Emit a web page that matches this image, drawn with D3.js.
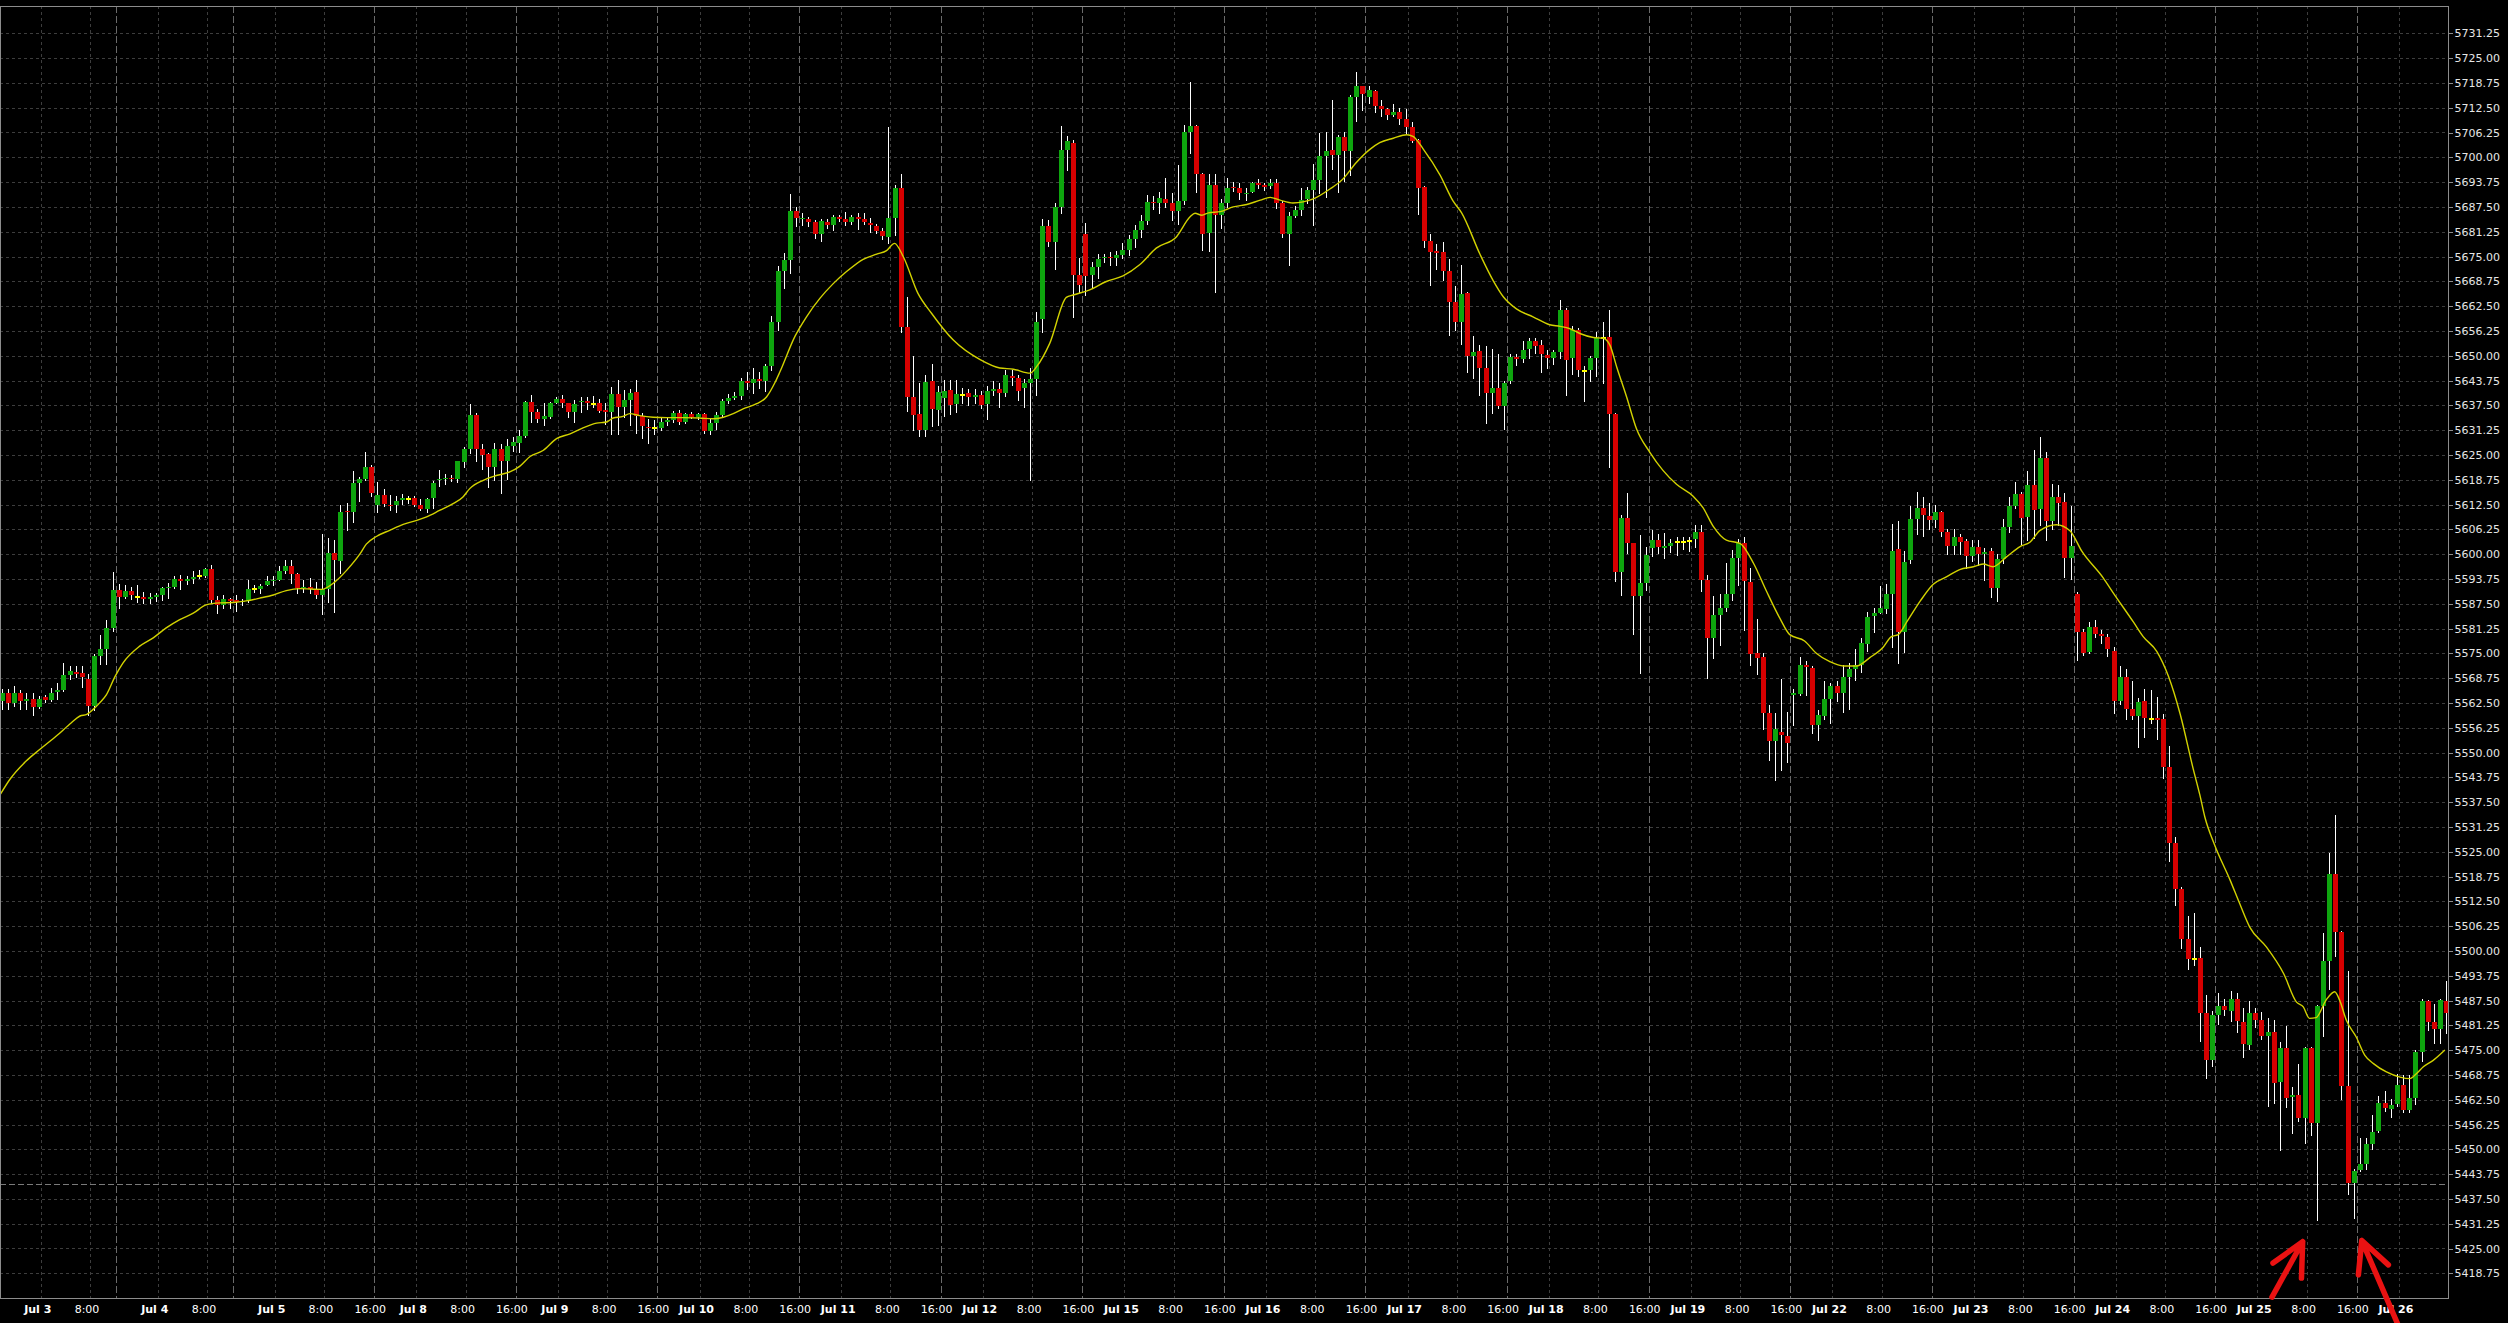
<!DOCTYPE html>
<html><head><meta charset="utf-8">
<script src="https://cdn.jsdelivr.net/npm/d3@7"></script>
<style>
html,body{margin:0;padding:0;background:#000;overflow:hidden}
svg{display:block}
</style></head><body>
<svg id="chart" width="2508" height="1323"></svg>
<script>
// ---------- DATA (hourly bars) ----------
const opens = [
5563,5565,5562.5,5565,5563,5563.5,5561.5,5564,5563.25,5565.25,
5565.75,5569.5,5570.25,5570,5568.5,5561.75,5574.25,5576,5581.5,5591,
5589.25,5590.75,5589.25,5589.25,5588.75,5589.25,5589.75,5591.5,5591.75,5593.75,
5593.25,5593.75,5594.5,5594.5,5596.25,5588.5,5587.25,5588.75,5588.5,5588,
5588.25,5591.25,5591.25,5592.25,5593.25,5593.5,5595.75,5597,5595,5591.5,
5591.75,5591.25,5589.75,5591.25,5600.25,5598.25,5610.75,5610.5,5618,5619,
5622,5612.25,5615,5612.5,5612.25,5613.75,5614,5614.25,5612.5,5611.25,
5614.25,5618.75,5619,5619.25,5619,5623.25,5626.5,5635,5626.5,5625.25,
5622,5626.5,5623.5,5627.25,5628,5629.75,5638.25,5635.75,5634,5634.5,
5638,5639,5638,5635.75,5638.25,5638.5,5637.75,5638,5636.25,5635.75,
5640.25,5637,5638.75,5640.75,5634.75,5632,5631.75,5631.75,5633.25,5633.75,
5635.5,5633.25,5635.25,5634.5,5635.25,5631,5633,5635,5638.5,5639.25,
5639.75,5643.75,5643,5644.25,5643.5,5647.5,5658.5,5671.25,5674,5686.5,
5684.5,5684.5,5683.75,5680.75,5683.75,5683,5685,5684.5,5683.75,5685,
5684.5,5683.5,5682.75,5681.5,5680,5684.75,5692.25,5657.25,5639.5,5635.25,
5631.25,5643.5,5636.25,5639.25,5641.25,5637.75,5640,5640.5,5639.5,5640,
5637.75,5641,5641.5,5640.5,5645,5644.5,5641.75,5643,5644.25,5659.25,
5682.75,5678.75,5687.5,5701.75,5703.5,5670.25,5680.75,5670.25,5672.25,5674.5,
5675,5674.5,5675.5,5676.75,5679.5,5681.75,5684,5688.75,5688.5,5689.5,
5688.5,5686.5,5689,5706.5,5708,5695.75,5681,5693,5685.5,5688.5,
5692.5,5692.25,5690.75,5691.25,5693.5,5693,5692.75,5693.5,5688.5,5680.75,
5685.25,5686.75,5689.5,5691.75,5694.25,5700.25,5701.75,5700.5,5705,5701.5,
5715.25,5718,5715.25,5716.75,5713,5712.25,5710.75,5711.5,5709.75,5707.75,
5704.25,5692.5,5679,5676.5,5676.25,5671.25,5663.5,5658.5,5665.75,5650,
5651.25,5647,5640.5,5641.75,5637.25,5643.75,5649.75,5649.25,5651.75,5653.75,
5652.75,5650.25,5649.5,5651,5661.5,5649.5,5656.5,5646.25,5646.5,5649.5,
5654.5,5654.75,5635.25,5595.5,5609,5602.75,5589.5,5592.75,5601.5,5603.5,
5601.5,5602,5603,5603,5603.25,5603.75,5605.5,5593.5,5578.75,5584.75,
5586.5,5590,5599,5602.75,5593,5575,5574,5560,5553,5555.25,
5554.25,5564.5,5564.75,5572,5571.25,5557,5559.25,5563.5,5566.75,5565,
5569,5571,5572,5577.25,5584.5,5585.25,5586.25,5590,5601.25,5580.25,
5598.5,5608.75,5611.5,5609.5,5608.5,5610.5,5605.5,5602,5604.25,5603.25,
5599.5,5601.75,5600,5600.75,5591.5,5598.75,5606.75,5612,5615.25,5609.25,
5617.5,5611.25,5624.25,5608.25,5614.5,5613.25,5599,5590,5580.25,5575.25,
5581.75,5579.75,5579,5575.5,5563,5569,5561,5559.25,5563,5558.5,
5558.75,5558.5,5546.25,5527.25,5515.5,5503,5498,5498.25,5484.25,5472.5,
5483.75,5486,5484.75,5488,5482,5476.25,5484.25,5482.5,5478.5,5479.5,
5467,5475.5,5463.25,5463.75,5458,5475.5,5456.75,5486,5497.5,5519.5,
5504.75,5466,5441.5,5444.75,5446.25,5451.25,5454.5,5461.75,5460.25,5461.5,
5466.25,5460,5463,5474.5,5487.5,5482,5480.25,5487.5];

const highs = [
5566,5566,5566.75,5565.75,5565,5565,5564.25,5564.5,5566.25,5567.5,
5572.5,5571.75,5571.75,5571.75,5569.75,5574.75,5579.5,5583.5,5595.5,5592.5,
5592.25,5591.75,5592.25,5590.5,5590.25,5590.25,5591.75,5592.75,5594.5,5594.75,
5594.5,5595.75,5596,5596.5,5597.25,5589.5,5589.75,5589,5589.75,5588.75,
5593.5,5592.25,5592.5,5594.5,5594.5,5597,5598.5,5598.5,5595.25,5593.5,
5594,5593,5605,5604,5603.5,5612.5,5613,5621,5619.5,5625.75,
5622.5,5618.25,5616.5,5615,5614.75,5615.25,5614.75,5614.75,5614,5614.25,
5618.5,5621.25,5620.25,5620,5623.5,5627,5637.75,5635.5,5627.75,5625.5,
5628,5627.75,5629,5629.5,5631.25,5638.5,5640,5636.5,5638,5638.25,
5639.5,5640,5638,5638.75,5639.5,5639.5,5639.75,5639,5638,5642,
5644,5641.25,5641.5,5644,5635.5,5634,5633.75,5634.5,5634.5,5636,
5636.25,5635.5,5635.75,5635.5,5635.5,5634,5635.75,5639,5640.25,5640.75,
5644.5,5646,5647,5646,5648,5660,5672.5,5676,5690.75,5687.5,
5686,5685,5684.25,5684.5,5684.5,5685.5,5685.5,5686.25,5685.5,5686,
5686,5684.75,5683.25,5682.25,5707.75,5693,5695.75,5664.75,5650,5643,
5645.25,5648,5642.25,5644,5644,5644,5641.75,5641.5,5641.5,5641,
5642.25,5643.5,5643,5646.5,5646.5,5645.25,5644.25,5647,5661,5684.5,
5684.25,5688.5,5708,5705.25,5704.25,5674.5,5683.5,5673.5,5675.75,5675.75,
5676.25,5676.5,5678.5,5680.5,5683,5685.5,5690.5,5690.25,5691.25,5694.75,
5691,5698,5708.25,5719,5708.25,5696,5695.75,5695.75,5689.5,5694.75,
5693.75,5693.5,5692.25,5693.75,5694.5,5693.5,5694.5,5694.5,5689,5686.25,
5687.75,5692.25,5692.5,5698.25,5706,5706.5,5714.5,5705.5,5706.5,5715.75,
5721.5,5718,5718,5717,5714.5,5712.5,5713.5,5712.5,5712.25,5709,
5704.5,5692.75,5680.75,5678.25,5678.75,5674.25,5667.5,5672.75,5666,5655,
5652.75,5652.5,5651.75,5650.5,5643.5,5650.5,5650.5,5653.75,5654.5,5654.5,
5654,5651.5,5651.5,5664,5662,5657.5,5657,5647.5,5650,5656,
5658.5,5661.5,5635.5,5609.75,5615.5,5602.75,5604.75,5601.75,5606,5605,
5605.25,5603.75,5604.25,5604.25,5604.25,5607.25,5607.25,5594.75,5589.5,5590,
5597.75,5601,5603.75,5604.25,5596.5,5583.75,5575,5562,5560,5568.5,
5560.25,5566,5574,5573,5571.75,5560.75,5568,5567.5,5568,5572,
5572.5,5576,5578.75,5585.5,5586.5,5592,5592.5,5607.5,5608.25,5600.75,
5612,5615.75,5614.5,5613,5612.5,5610.75,5606.25,5606.25,5605,5603.75,
5603.5,5603.5,5601.5,5601.5,5600,5608.75,5614.5,5618.25,5615.75,5621,
5626.25,5629.5,5625.75,5617.75,5617.5,5615.5,5612,5590.5,5581,5583,
5583.5,5580.75,5579.75,5576.5,5571.75,5571,5568,5563.75,5566,5565.75,
5564,5559.75,5551.75,5528.75,5516,5508.75,5509.5,5501,5489,5484.75,
5489.5,5488,5490,5489.5,5485.5,5487.25,5485.5,5484.5,5483,5482.5,
5477,5481,5465.75,5471.5,5475.75,5475.75,5486.25,5504.5,5524.75,5534.25,
5505,5495,5445,5452.75,5452.75,5458.75,5463.5,5464.75,5462.75,5469,
5468.75,5468.75,5475,5488,5487.75,5486.5,5488,5492.5];

const lows = [
5561,5561,5561.75,5561,5561,5559.5,5561.25,5562.75,5563,5563.5,
5565.5,5568.5,5569,5566.5,5559.5,5560.75,5572.25,5572.25,5580.5,5586.5,
5589,5588.75,5588,5587.75,5587.75,5588.25,5588.5,5589,5591.5,5591.25,
5592.5,5592.75,5594,5594.25,5587.75,5585.25,5586.5,5586.5,5585.75,5587.25,
5588,5590.5,5590.25,5592.25,5592.25,5593.5,5595.25,5592.75,5590.25,5590.5,
5590.25,5589,5585,5588,5585.5,5595.25,5606,5608,5613.5,5618.75,
5614.75,5610.5,5612,5611,5610.5,5612.75,5613,5612,5611,5610.5,
5611.5,5617.25,5617.75,5618.5,5618.25,5622,5625.5,5623.5,5621.5,5617,
5618.75,5615.5,5619,5626,5625.75,5629.5,5633.25,5633.25,5632.5,5634.25,
5638,5637,5634.5,5633.25,5635.75,5636.5,5637,5635.75,5632.75,5630.25,
5630.25,5634.5,5632.5,5630.5,5629.25,5628,5630.25,5631.25,5632.5,5633.25,
5632.75,5633,5634.25,5634,5630.5,5630.25,5631.5,5634.75,5638,5639,
5639,5641.5,5640.5,5641.75,5641,5646.5,5656.5,5667,5670.75,5682.75,
5683,5682.75,5679.75,5679,5682.25,5681.75,5684,5683,5683.25,5682,
5683.25,5681.25,5681,5679.5,5678.5,5680.5,5656,5636,5631.25,5629.75,
5629.75,5632.25,5632.5,5634.75,5635.25,5635.75,5638,5637.5,5638,5636.75,
5634,5640,5637,5639.75,5642.5,5638.75,5637,5618.75,5640,5656,
5677.75,5671.75,5686,5696.75,5659.75,5666,5665.25,5667,5669.5,5673.5,
5672.75,5672.75,5674.5,5675.5,5677.5,5680,5683.25,5687,5686,5687.5,
5684.25,5683.25,5688.25,5701,5691.25,5676.75,5676.5,5666,5682.25,5687.5,
5691.5,5689.5,5689.25,5691.25,5692.25,5691.75,5692.25,5687.25,5680,5672.75,
5685,5685.5,5688.5,5683,5691,5690,5697,5691.25,5694,5695.5,
5709.25,5712,5713.75,5711.5,5710.5,5709.75,5710.5,5708.5,5706,5703.75,
5685.75,5677.5,5667.75,5671.75,5669,5655.25,5656.5,5653,5646,5644.5,
5640,5633,5635.5,5636.75,5631.5,5643,5647.75,5648.5,5649.5,5650.75,
5646,5647,5648,5649.5,5640,5645.5,5645,5638.5,5643.75,5645,
5643,5622,5593.25,5589.75,5600.25,5579.75,5570,5591,5599.5,5600.25,
5599,5600.5,5599.75,5601.25,5600.75,5601.75,5590.75,5568.75,5573.75,5577,
5585.75,5588.5,5592.25,5580.75,5572,5569.75,5556,5548,5543,5545.5,
5547.5,5557,5564.5,5564.5,5555,5553.25,5558.5,5557.5,5563,5560.25,
5561,5568.25,5570.25,5575.5,5580.25,5585.25,5585.25,5576.5,5572.5,5575.25,
5597.75,5605,5604.5,5606.25,5606.75,5604.5,5600,5600,5600,5596.5,
5598.25,5597.25,5593.5,5589.25,5588.25,5597.75,5605.5,5611.5,5602.5,5603.5,
5604,5607.25,5603.5,5606.25,5607.25,5594.25,5593.75,5573.25,5574.5,5575,
5579,5577.5,5574.25,5560,5562.25,5558.5,5558.5,5551.5,5554,5557.5,
5553.5,5543.5,5522.75,5511.5,5500.75,5495.5,5496.5,5477.25,5468,5471,
5481.5,5483.75,5482.25,5479.5,5473.25,5475.25,5480.75,5477.75,5461,5461.75,
5449.75,5460.75,5454,5457.25,5451.5,5453.5,5432.25,5478.5,5490.5,5498.75,
5462.75,5438.75,5432.75,5444.5,5445,5450,5454.25,5459.75,5458.25,5461,
5459.5,5459.5,5461.5,5472.25,5480,5476.75,5476.75,5479.25];

const closes = [
5565,5562.5,5565,5563,5563.5,5561.5,5563.5,5563.25,5565,5565.75,
5569.5,5570.5,5569.75,5569,5561.75,5574.25,5576,5581.5,5591,5589.25,
5590.75,5589.75,5589.25,5588.75,5589.25,5589.75,5591.5,5591.75,5593.75,5593.25,
5593.75,5594.25,5594.5,5596.25,5588.5,5587.25,5588.75,5588.25,5588,5588.25,
5591.25,5591.25,5592,5593.25,5593.5,5595.75,5597,5595,5591.5,5591.75,
5591.25,5589.75,5591.25,5600.25,5598.5,5610.5,5610.5,5618,5619,5622,
5615.5,5615,5612.75,5612,5613.5,5614.25,5614,5612.5,5611.25,5614,
5618,5619,5619.25,5619,5623.5,5626.5,5635,5626.5,5625,5622,
5626.5,5623.5,5627.25,5628.25,5629.75,5638.25,5635.75,5634,5634.75,5638,
5639,5638,5635.75,5637.75,5638.5,5638,5637.75,5636,5635.75,5640.25,
5637,5638.75,5640.5,5634.75,5632.25,5631.75,5631.75,5633.25,5633.75,5635.5,
5633.25,5635.25,5634.5,5635.25,5631,5633,5635,5638.5,5639.25,5639.75,
5643.75,5643,5644.25,5643.5,5647.5,5658.5,5671.25,5674,5686.5,5684.75,
5684.75,5683.75,5680.75,5684,5683,5685,5684.5,5683.75,5685,5684.5,
5683.75,5683,5681.5,5680.25,5684.75,5692.25,5657.25,5639.5,5635,5631.25,
5643.25,5636.5,5640.75,5641,5637.5,5640.25,5640,5639.5,5640,5637.5,
5641,5641.5,5640.5,5645.25,5644.5,5641,5643,5644.25,5658.5,5682.75,
5678.75,5687.5,5701.75,5704,5670.25,5667.75,5670,5672.25,5674.25,5675,
5674.5,5675.5,5676.75,5679.5,5681.75,5684,5688.75,5688.5,5689.75,5688.5,
5686.5,5689,5706.5,5708,5695.75,5680.75,5693,5685.5,5688.5,5692.25,
5692.25,5691,5691,5693.5,5693,5692.5,5693.5,5688.5,5680.75,5685.25,
5686.75,5689.25,5691.75,5694.25,5700.25,5701.5,5700.5,5705,5701.5,5715.25,
5718,5716,5717,5713,5712.25,5710.75,5711.5,5709.75,5707.75,5704,
5692.25,5679,5676.25,5676,5671.25,5663.5,5658.5,5665.5,5650,5651,
5647,5640.5,5641.75,5637.25,5643,5649.75,5649.25,5651.5,5653.75,5652.5,
5650.5,5649.5,5651,5661.5,5649,5656.5,5646.5,5646.25,5649.5,5654.5,
5654.5,5635.25,5595.5,5609,5602.75,5589.5,5592.75,5599.75,5603.5,5601.75,
5602,5602.75,5603,5603,5603.25,5605.5,5593.5,5578.75,5584.75,5586.5,
5590,5599,5602.75,5593.25,5574.75,5573.75,5560,5553,5556,5554.5,
5552.5,5565,5572,5571.5,5557,5559.5,5563.5,5566.75,5565,5569,
5571,5572,5577.5,5584.25,5585.25,5586.5,5590,5600.75,5580.25,5598,
5608.75,5611.5,5609.75,5608.5,5610.5,5605.5,5602,5604.25,5603,5599.5,
5601.75,5600,5600.5,5591.5,5598.75,5606.75,5612,5615.25,5609,5617.5,
5611,5624.25,5608.25,5614.5,5613,5599,5602,5580.25,5575,5581.75,
5579.75,5579.25,5576,5563,5569,5561,5559.25,5562.75,5558.75,5558.5,
5558.25,5546.25,5527.25,5515.5,5503,5498,5498,5484.25,5472.5,5483.75,
5486,5485,5488,5482.25,5476.5,5484.25,5482.5,5478.5,5479.5,5466.75,
5475.5,5463,5463.75,5458,5475.5,5456.75,5486,5497.5,5519.5,5504.75,
5466,5441.5,5444.5,5446.25,5451.25,5454.25,5461.75,5460.5,5461.25,5466.25,
5460,5463,5474.5,5487.5,5482,5480.25,5487.75,5484.25];

// moving average: bar position and value
const maBars = [-0.3,1.3,4,6.2,8.9,11.3,12.7,13.8,14.8,15.9,17,18.4,19.7,22.4,24.6,26.7,28.9,31.1,33.2,35.4,37.6,39.7,41.9,44.1,46.2,48.4,51.9,54.1,56,58.2,59.2,60.9,63,65.2,67.4,69,71.1,73.3,74.9,76,78.2,80.3,82.5,84.1,85.8,87.9,90.1,92.3,94.4,96.6,98.2,99.3,100.9,102,103.6,105.8,108,110.7,113.3,115.5,117.2,118.8,120.4,122.6,124.2,125.6,126.4,128.8,130.7,132.9,135,137.2,139.9,142.1,143.7,145,146.4,148.8,151,154.5,158.9,162.1,164.3,167,168.1,170.2,172.9,174,176.7,179.4,182.1,184.8,187.5,190.8,193,193.8,194.9,196,197.9,200,202.2,204.4,206,207.6,209.7,213,215.7,217.8,220,222.2,223.8,226,228.2,229.2,230.9,233.6,235.7,237.1,240.1,242.2,243.9,246,248.7,251.4,253.1,254.7,256.3,258.5,260.1,261.2,262.3,263.9,265.5,267.7,269.8,272,274.7,276.3,278,280.1,282.3,284.5,286.6,288.8,290.4,292.8,294.7,296.9,299.1,301.2,303.4,305.6,306.9,308,309.4,311.6,313.7,315.9,318,320.2,321.8,323.4,325.6,327.8,329.4,331,333.7,335.9,337.8,341.3,342.9,346.2,347.8,350,351.9,353.8,355.9,357,357.8,359.4,361.9,363.5,365.1,367.8,370.6,372.7,373.8,374.8,375.9,377.5,378.9,379.7,380.8,382.4,383.8,385.2,387.3,389.5,391.1,392.2,393.3,394.9,396.8];
const maValues = [5539.3,5543.2,5547.9,5550.8,5554.2,5557.5,5559.2,5559.6,5560.8,5562.5,5564.6,5569.2,5572.6,5576.8,5578.9,5581.4,5583.5,5585.1,5587.2,5587.7,5587.8,5588.2,5588.9,5589.7,5590.8,5591.3,5591.1,5593,5595.9,5600.1,5602.5,5604.5,5606,5607.5,5608.5,5609.4,5611,5612.7,5614.4,5616.5,5618.6,5619.8,5620.7,5622.1,5624.6,5626.1,5629.1,5630.3,5631.8,5633,5633.3,5634.3,5634.7,5635.4,5634.9,5634.5,5634.4,5634.4,5634.3,5634.1,5634.5,5635.4,5636.6,5637.9,5639.6,5643.3,5646,5654.8,5659.8,5664.5,5668.1,5671.2,5674.3,5675.6,5676.5,5678.3,5675,5665.7,5660.7,5654,5649,5646.9,5646.6,5645.6,5647.3,5653.1,5664.7,5665.3,5666.6,5668.7,5670.1,5672.9,5677.1,5680,5685,5685.9,5685.4,5686,5686.3,5687.5,5688.1,5689.2,5689.9,5689.2,5688.5,5689.5,5692,5694.5,5698.7,5702,5703.7,5704.8,5705.7,5705.3,5702,5695.5,5689,5686,5675.5,5669,5664.8,5661.8,5659.8,5657.8,5657.4,5656.8,5655.6,5654.6,5654.4,5652.6,5647.1,5639.6,5631.6,5625.6,5621.1,5617.6,5614.6,5611.7,5606.9,5603.5,5602.7,5597.7,5590.7,5583.8,5579.7,5578.1,5575,5572.9,5571.8,5571.8,5573.9,5576.6,5579.2,5579.7,5582.9,5588.2,5592.4,5594.3,5596.1,5596.8,5597.5,5596.8,5599.3,5601.9,5603,5605.9,5607.4,5605.9,5600.8,5594,5590.3,5582.9,5579.2,5575.5,5569.2,5559.7,5546,5539.3,5533.8,5526.7,5517.9,5511.8,5506,5501,5494.3,5487.1,5485.9,5483,5483.2,5487.6,5489.7,5487.6,5482.5,5478.3,5473.7,5471.6,5469.5,5468.2,5467.8,5469.1,5470.8,5472.4,5475];

// time axis labels (bar index where each label sits)
const labelBars = [6,14,25,33,44,52,60,67,75,83,90,98,106,113,121,129,136,144,152,159,167,175,182,190,198,205,213,221,228,236,244,251,259,267,274,282,290,297,305,313,320,328,336,343,351,359,366,374,382,389];
const labelTexts = ["Jul 3","8:00","Jul 4","8:00","Jul 5","8:00","16:00","Jul 8","8:00","16:00","Jul 9","8:00","16:00","Jul 10","8:00","16:00","Jul 11","8:00","16:00","Jul 12","8:00","16:00","Jul 15","8:00","16:00","Jul 16","8:00","16:00","Jul 17","8:00","16:00","Jul 18","8:00","16:00","Jul 19","8:00","16:00","Jul 22","8:00","16:00","Jul 23","8:00","16:00","Jul 24","8:00","16:00","Jul 25","8:00","16:00","Jul 26"];
// session separator bars (brighter dashed verticals)
const sessionBars = [18,37,60,83,106,129,152,175,198,221,244,267,290,313,336,359,382];
// price axis tick labels
const priceTicks = [5418.75,5425,5431.25,5437.5,5443.75,5450,5456.25,5462.5,5468.75,5475,5481.25,5487.5,5493.75,5500,5506.25,5512.5,5518.75,5525,5531.25,5537.5,5543.75,5550,5556.25,5562.5,5568.75,5575,5581.25,5587.5,5593.75,5600,5606.25,5612.5,5618.75,5625,5631.25,5637.5,5643.75,5650,5656.25,5662.5,5668.75,5675,5681.25,5687.5,5693.75,5700,5706.25,5712.5,5718.75,5725,5731.25];
// horizontal level line
const levelPrice = [5441.25];
// annotation arrows: tip at (bar, price)
const arrowTips = [{bar:373.7, price:5426.7}, {bar:383.3, price:5427.0}];

// ---------- LAYOUT ----------
const svg = d3.select("#chart");
const plot = {left:0, top:6, right:2448, bottom:1298};
const n = opens.length;
const x = d3.scaleLinear().domain([0, 397]).range([1.8, 1.8 + 397*6.157]);
const y = d3.scaleLinear().domain([5418.75, 5731.25]).range([1273.3, 33.3]);
const font = "DejaVu Sans, Verdana, sans-serif";

svg.append("rect").attr("x",0).attr("y",0).attr("width",2508).attr("height",1323).attr("fill","#000");

svg.append("defs").append("clipPath").attr("id","clip")
  .append("rect").attr("x",plot.left).attr("y",plot.top)
  .attr("width",plot.right-plot.left).attr("height",plot.bottom-plot.top);

const grid = svg.append("g").attr("clip-path","url(#clip)");
// horizontal grid
grid.selectAll("line.hg").data(priceTicks).join("line").attr("class","hg")
  .attr("x1",plot.left).attr("x2",plot.right)
  .attr("y1",d=>Math.round(y(d))+0.5).attr("y2",d=>Math.round(y(d))+0.5)
  .attr("stroke","#3d3d3d").attr("stroke-width",1).attr("stroke-dasharray","3,3");
// vertical label grid
grid.selectAll("line.vg").data(labelBars.filter(b=>!sessionBars.includes(b))).join("line").attr("class","vg")
  .attr("x1",d=>Math.round(x(d)+2)+0.5).attr("x2",d=>Math.round(x(d)+2)+0.5)
  .attr("y1",plot.top).attr("y2",plot.bottom)
  .attr("stroke","#3d3d3d").attr("stroke-width",1).attr("stroke-dasharray","3,3");
// session separators
grid.selectAll("line.sg").data(sessionBars).join("line").attr("class","sg")
  .attr("x1",d=>Math.round(x(d)+3)+0.5).attr("x2",d=>Math.round(x(d)+3)+0.5)
  .attr("y1",plot.top).attr("y2",plot.bottom)
  .attr("stroke","#6a6a6a").attr("stroke-width",1).attr("stroke-dasharray","7,3");
// level line
grid.selectAll("line.lv").data(levelPrice).join("line").attr("class","lv")
  .attr("x1",plot.left).attr("x2",plot.right)
  .attr("y1",d=>Math.round(y(d))+0.5).attr("y2",d=>Math.round(y(d))+0.5)
  .attr("stroke","#7a7a7a").attr("stroke-width",1).attr("stroke-dasharray","6,3");

// candles
const bars = d3.range(n).map(i=>({i, o:opens[i], h:highs[i], l:lows[i], c:closes[i]}));
const cg = svg.append("g").attr("clip-path","url(#clip)").attr("shape-rendering","crispEdges");
cg.selectAll("rect.wick").data(bars).join("rect").attr("class","wick")
  .attr("x",d=>Math.round(x(d.i)))
  .attr("width",1)
  .attr("y",d=>Math.round(y(d.h)))
  .attr("height",d=>Math.max(1, Math.round(y(d.l)) - Math.round(y(d.h)) + 1))
  .attr("fill","#ffffff");
cg.selectAll("rect.body").data(bars).join("rect").attr("class","body")
  .attr("x",d=>Math.round(x(d.i))-2)
  .attr("width",5)
  .attr("y",d=>{
    if (d.o===d.c) return Math.round(y(d.o))-1;
    return Math.round(y(Math.max(d.o,d.c)));
  })
  .attr("height",d=>{
    if (d.o===d.c) return 2;
    return Math.max(1, Math.round(y(Math.min(d.o,d.c))) - Math.round(y(Math.max(d.o,d.c))));
  })
  .attr("fill",d=> d.o===d.c ? "#ffff00" : (d.c>d.o ? "#0ea50e" : "#d60000"));

// moving average
const maData = maBars.map((b,k)=>[b, maValues[k]]);
svg.append("g").attr("clip-path","url(#clip)").append("path")
  .datum(maData)
  .attr("d", d3.line().x(d=>x(d[0])).y(d=>y(d[1])).curve(d3.curveMonotoneX))
  .attr("fill","none").attr("stroke","#d2d200").attr("stroke-width",1.4);

// frame
const frame = svg.append("g").attr("shape-rendering","crispEdges");
frame.append("rect").attr("x",plot.left+0.5).attr("y",plot.top+0.5)
  .attr("width",plot.right-plot.left).attr("height",plot.bottom-plot.top)
  .attr("fill","none").attr("stroke","#8c8c8c").attr("stroke-width",1);

// price axis
const yAxis = svg.append("g").attr("transform",`translate(${plot.right+0.5},0)`)
  .call(d3.axisRight(y).tickValues(priceTicks).tickSize(4).tickPadding(2).tickFormat(d3.format(".2f")));
yAxis.select(".domain").remove();
yAxis.selectAll(".tick line").attr("stroke","#8c8c8c").attr("shape-rendering","crispEdges");
yAxis.selectAll(".tick text").attr("fill","#e6e6e6").attr("font-family",font).attr("font-size",11);

// time axis
const xAxis = svg.append("g").attr("transform",`translate(0,${plot.bottom})`)
  .call(d3.axisBottom(x).tickValues(labelBars).tickSize(0).tickPadding(7.5)
    .tickFormat((d,k)=>labelTexts[k]));
xAxis.select(".domain").remove();
xAxis.selectAll(".tick").attr("transform",d=>`translate(${x(d)-1},0)`);
xAxis.selectAll(".tick text").attr("fill","#ffffff").attr("font-family",font).attr("font-size",11)
  .attr("font-weight",(d,k)=>labelTexts[k].startsWith("Jul")?"bold":"normal");

// annotation arrows
const arrowShapes = [
  {tail:[-30.7,55.3], wings:[[-29.7,21.3],[-1.2,36.3]]},
  {tail:[37,86], wings:[[-3.4,34.3],[26.6,24.3]]}
];
const ag = svg.append("g");
arrowTips.forEach((t,k)=>{
  const tx = x(t.bar), ty = y(t.price);
  const s = arrowShapes[k];
  const p = d3.path();
  p.moveTo(tx+s.tail[0], ty+s.tail[1]); p.lineTo(tx,ty);
  p.moveTo(tx+s.wings[0][0], ty+s.wings[0][1]); p.lineTo(tx,ty); p.lineTo(tx+s.wings[1][0], ty+s.wings[1][1]);
  ag.append("path").attr("d",p.toString()).attr("fill","none")
    .attr("stroke","#ea1212").attr("stroke-width",5.5)
    .attr("stroke-linecap","round").attr("stroke-linejoin","round");
});
</script>
</body></html>
